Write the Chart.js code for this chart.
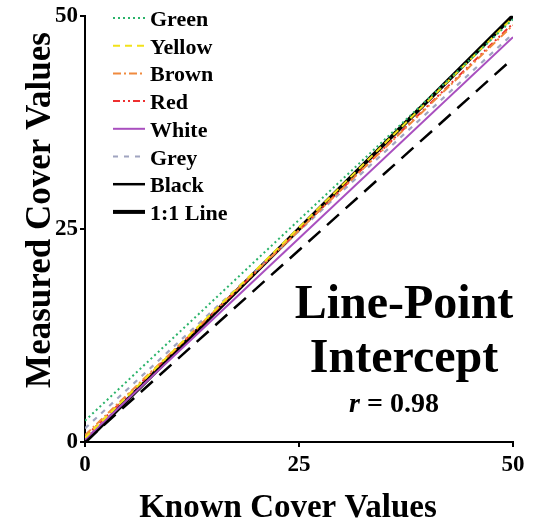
<!DOCTYPE html>
<html>
<head>
<meta charset="utf-8">
<script src="https://cdn.jsdelivr.net/npm/chart.js@4"></script>
<style>
html, body { margin: 0; padding: 0; background: #fff; }
#wrap { width: 536px; height: 527px; }
</style>
</head>
<body>
<div id="wrap"><canvas id="chart" width="536" height="527"></canvas></div>
<script>
// Known cover (x) at the two ends of each fitted line
const knownValues = [0, 50];

// Measured cover (y) at x = 0 and x = 50
const greenValues  = [2.5, 49.6];
const yellowValues = [0.5, 49.8];
const brownValues  = [0.8, 48.9];
const redValues    = [0.6, 49.1];
const whiteValues  = [0.3, 47.5];
const greyValues   = [1.6, 47.9];
const blackValues  = [0.0, 45.0];
const oneToOne     = [0, 50];

const xTicks = [0, 25, 50];
const yTicks = [0, 25, 50];

const serif = '"Liberation Serif", "Times New Roman", serif';

function points(ys) {
    return knownValues.map((x, i) => ({ x: x, y: ys[i] }));
}

function line(label, ys, color, width, dash, legendDash) {
    return {
        label: label,
        data: points(ys),
        borderColor: color,
        backgroundColor: color,
        borderWidth: width,
        borderDash: dash,
        legendDash: legendDash,
        pointRadius: 0,
        fill: false,
        tension: 0
    };
}

// Legend and the text block sit inside the plot, so draw them here
const overlay = {
    id: 'overlay',
    afterDraw(chart) {
        const ctx = chart.ctx;
        const area = chart.chartArea;
        ctx.save();

        // legend
        chart.data.datasets.forEach((ds, i) => {
            const y = 18 + i * 27.7;
            ctx.beginPath();
            ctx.setLineDash(ds.legendDash || ds.borderDash || []);
            ctx.strokeStyle = ds.borderColor;
            ctx.lineWidth = ds.borderWidth;
            ctx.moveTo(area.left + 28, y);
            ctx.lineTo(area.left + 60, y);
            ctx.stroke();
            ctx.setLineDash([]);
            ctx.fillStyle = '#000';
            ctx.font = 'bold 22px ' + serif;
            ctx.textAlign = 'left';
            ctx.textBaseline = 'alphabetic';
            ctx.fillText(ds.label, area.left + 65, y + 8);
        });

        // method label
        const cx = 404;
        ctx.textAlign = 'center';
        ctx.fillStyle = '#000';
        ctx.font = 'bold 48px ' + serif;
        ctx.fillText('Line-Point', cx, 318);
        ctx.fillText('Intercept', cx, 372);
        ctx.font = 'italic bold 28px ' + serif;
        const iw = ctx.measureText('r').width;
        ctx.font = 'bold 28px ' + serif;
        const rest = ' = 0.98';
        const tw = ctx.measureText(rest).width;
        const sx = 394 - (iw + tw) / 2;
        ctx.textAlign = 'left';
        ctx.font = 'italic bold 28px ' + serif;
        ctx.fillText('r', sx, 412);
        ctx.font = 'bold 28px ' + serif;
        ctx.fillText(rest, sx + iw, 412);

        // axis titles
        ctx.textAlign = 'center';
        ctx.font = 'bold 33px ' + serif;
        ctx.fillText('Known Cover Values', 288, 517);
        ctx.translate(50, 210);
        ctx.rotate(-Math.PI / 2);
        ctx.font = 'bold 35px ' + serif;
        ctx.fillText('Measured Cover Values', 0, 0);

        ctx.restore();
    }
};

new Chart(document.getElementById('chart'), {
    type: 'line',
    data: {
        datasets: [
            line('Green',  greenValues,  '#2bb36a', 2, [2, 3]),
            line('Yellow', yellowValues, '#f2e21a', 2, [7, 5]),
            line('Brown',  brownValues,  '#f08a3e', 2, [8, 3, 2, 3]),
            line('Red',    redValues,    '#ee3030', 2, [7, 3, 2, 3, 2, 3]),
            line('White',  whiteValues,  '#a94fbf', 2, []),
            line('Grey',   greyValues,   '#a0a4c0', 2.2, [5, 6]),
            line('Black',  blackValues,  '#000000', 2.5, [16, 9], []),
            line('1:1 Line', oneToOne,   '#000000', 4, [])
        ]
    },
    options: {
        responsive: false,
        animation: false,
        layout: { padding: { top: 14, right: 23, left: 0, bottom: 0 } },
        plugins: {
            legend: { display: false },
            tooltip: { enabled: false }
        },
        scales: {
            x: {
                type: 'linear',
                min: 0,
                max: 50,
                afterBuildTicks: s => { s.ticks = xTicks.map(v => ({ value: v })); },
                afterFit: s => { s.height = 85; },
                border: { display: true, color: '#000', width: 2 },
                grid: { drawOnChartArea: false, drawTicks: true, tickLength: 5, color: '#000', lineWidth: 2 },
                ticks: { color: '#000', padding: 4, font: { family: serif, size: 23, weight: 'bold' }, maxRotation: 0 }
            },
            y: {
                type: 'linear',
                min: 0,
                max: 50,
                afterBuildTicks: s => { s.ticks = yTicks.map(v => ({ value: v })); },
                afterFit: s => { s.width = 85; },
                border: { display: true, color: '#000', width: 2 },
                grid: { drawOnChartArea: false, drawTicks: true, tickLength: 5, color: '#000', lineWidth: 2 },
                ticks: { color: '#000', padding: 2, font: { family: serif, size: 23, weight: 'bold' } }
            }
        }
    },
    plugins: [overlay]
});
</script>
</body>
</html>
